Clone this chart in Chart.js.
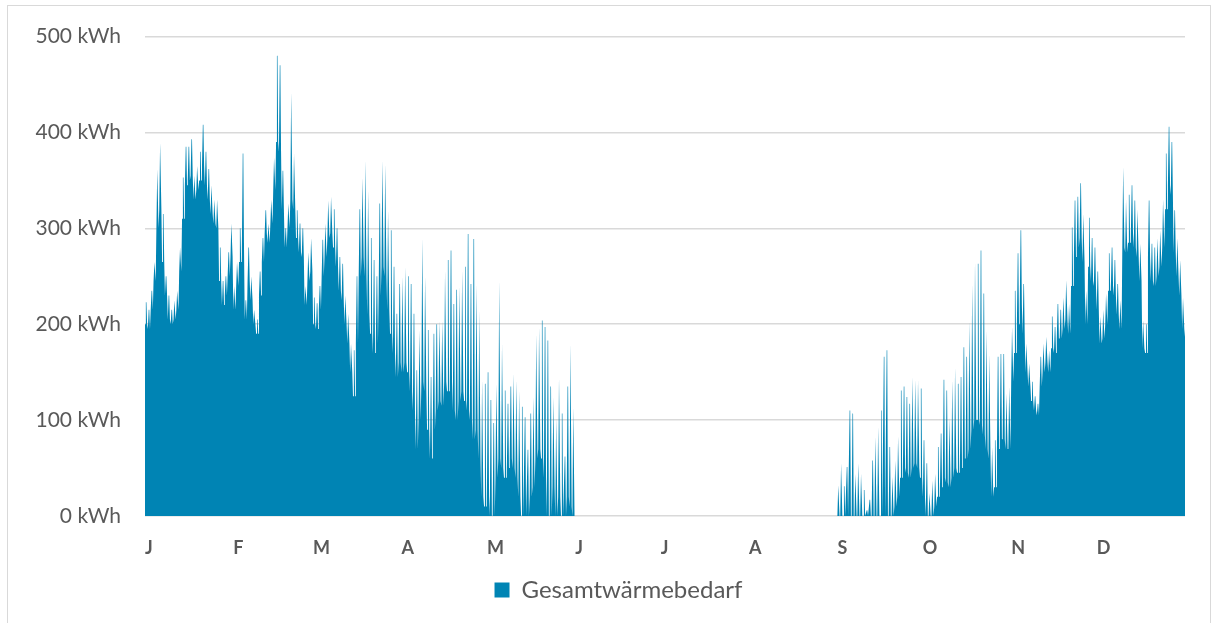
<!DOCTYPE html>
<html>
<head>
<meta charset="utf-8">
<script src="https://cdn.jsdelivr.net/npm/chart.js@4.4.0/dist/chart.umd.min.js"></script>
<style>
html,body{margin:0;padding:0;background:#fff;}
#wrap{position:absolute;left:0;top:0;width:1213px;height:623px;overflow:hidden;}
#frame{position:absolute;left:7px;top:5px;width:1204px;height:640px;border:1px solid #d9d9d9;box-sizing:border-box;pointer-events:none;}
canvas{position:absolute;left:0;top:0;}
</style>
</head>
<body>
<div id="wrap"><canvas id="c" width="1213" height="623"></canvas><div id="frame"></div></div>
<script>
// Month tick labels and the day of year where each month starts
const monthLabels = ['J','F','M','A','M','J','J','A','S','O','N','D'];
const monthStartDays = [0,31,59,90,120,151,181,212,243,273,304,334];
const yTickValues = [0,100,200,300,400,500];
const seriesName = 'Gesamtwärmebedarf';

// Daily peak heat demand (kWh)
const dailyPeak = [
  // Jan
  223,215,235,265,362,389,315,250,230,215,225,235,280,353,385,385,393,355,365,380,408,380,362,345,330,330,280,245,250,275,305,
  // Feb
  240,265,300,378,225,280,250,215,205,255,290,319,305,330,374,480,470,360,300,326,442,378,319,305,300,240,275,290,
  // Mar
  228,222,240,288,305,329,333,320,300,270,263,230,211,180,173,250,320,353,371,340,290,267,250,326,371,367,319,298,260,211,242,
  // Apr
  250,260,250,242,211,152,194,290,250,194,145,190,200,204,204,256,267,277,221,236,240,256,260,294,242,289,242,215,142,138,
  // May
  150,121,97,138,246,180,131,117,135,149,142,131,114,103,69,107,124,190,197,204,197,183,135,124,103,145,107,62,135,180,114,
  // Jun
  0,0,0,0,0,0,0,0,0,0,0,0,0,0,0,0,0,0,0,0,0,0,0,0,0,0,0,0,0,0,
  // Jul
  0,0,0,0,0,0,0,0,0,0,0,0,0,0,0,0,0,0,0,0,0,0,0,0,0,0,0,0,0,0,0,
  // Aug
  0,0,0,0,0,0,0,0,0,0,0,0,0,0,0,0,0,0,0,0,0,0,0,0,0,0,0,0,0,0,0,
  // Sep
  32,55,31,51,110,107,44,55,44,27,6,17,58,83,93,110,166,173,72,41,58,83,131,135,124,117,145,142,142,133,
  // Oct
  79,55,24,37,44,72,86,142,131,103,142,155,138,145,176,166,204,242,267,263,277,232,194,169,72,79,166,169,169,128,135,
  // Nov
  197,235,274,298,242,180,159,140,125,117,166,180,187,173,208,197,221,215,228,246,221,301,329,333,347,315,235,311,290,280,
  // Dec
  255,208,215,232,274,280,267,242,225,364,330,335,345,329,320,284,204,200,329,284,280,290,298,330,378,406,390,319,290,267,228
];

// Daily base (night-time) heat demand (kWh)
const dailyBase = [
  // Jan
  200,195,215,245,300,320,265,230,205,200,205,215,255,310,345,350,355,330,340,350,365,345,330,315,305,300,245,220,230,250,270,
  // Feb
  215,240,265,280,205,245,225,200,190,230,265,295,285,305,340,390,380,320,280,300,330,320,290,275,270,220,245,255,
  // Mar
  200,195,215,250,270,290,295,280,260,235,225,200,180,150,125,180,250,270,250,210,190,170,180,230,260,250,215,190,170,145,160,
  // Apr
  150,160,150,130,110,70,100,140,130,90,60,90,110,120,115,140,130,140,110,100,120,130,120,110,100,80,90,60,20,10,
  // May
  20,0,0,40,60,50,40,50,60,50,40,20,0,0,0,20,30,60,70,60,40,0,0,30,0,20,0,0,20,10,0,
  // Jun
  0,0,0,0,0,0,0,0,0,0,0,0,0,0,0,0,0,0,0,0,0,0,0,0,0,0,0,0,0,0,
  // Jul
  0,0,0,0,0,0,0,0,0,0,0,0,0,0,0,0,0,0,0,0,0,0,0,0,0,0,0,0,0,0,0,
  // Aug
  0,0,0,0,0,0,0,0,0,0,0,0,0,0,0,0,0,0,0,0,0,0,0,0,0,0,0,0,0,0,0,
  // Sep
  0,0,0,0,0,0,0,0,0,0,0,0,0,0,0,0,0,0,0,0,10,20,40,50,45,40,50,55,50,40,
  // Oct
  20,0,0,0,10,20,30,40,35,30,40,50,45,50,60,60,70,90,100,100,95,85,70,60,20,30,70,80,80,70,70,
  // Nov
  140,170,200,220,190,150,135,120,110,105,135,150,160,150,175,170,185,185,195,205,190,240,270,280,290,265,200,260,245,240,
  // Dec
  215,180,185,200,235,240,230,210,195,280,275,285,295,280,270,245,175,170,270,245,240,250,260,280,320,345,335,275,250,230,195
];
const yearEndValue = 187;

// Build the point table from the arrays (base, morning peak, base per day)
const points = [];
for (let d = 0; d < dailyPeak.length; d++) {
  points.push({x: d, y: dailyBase[d]});
  points.push({x: d + 0.3, y: dailyPeak[d]});
  points.push({x: d + 0.5, y: dailyPeak[d]});
  points.push({x: d + 0.75, y: dailyBase[d]});
}
points.push({x: dailyPeak.length, y: yearEndValue});

const BLUE = '#0084B4';
const GREY = '#595959';
const FONT = 'Lato, "Open Sans", sans-serif';

new Chart(document.getElementById('c'), {
  type: 'line',
  data: {
    datasets: [{
      label: seriesName,
      data: points,
      backgroundColor: BLUE,
      borderColor: BLUE,
      borderWidth: 0,
      pointRadius: 0,
      fill: 'origin',
      tension: 0
    }]
  },
  options: {
    responsive: false,
    animation: false,
    devicePixelRatio: 1,
    layout: { padding: { left: 30, right: 6, top: 36, bottom: 11 } },
    plugins: {
      tooltip: { enabled: false },
      legend: {
        position: 'bottom',
        labels: {
          boxWidth: 15,
          boxHeight: 15,
          padding: 10,
          color: GREY,
          font: { family: FONT, size: 24 }
        }
      }
    },
    scales: {
      x: {
        type: 'linear',
        min: 0,
        max: 365,
        grid: { display: false, drawTicks: false },
        border: { display: false },
        afterBuildTicks: s => { s.ticks = monthStartDays.map(v => ({ value: v })); },
        afterFit: s => { s.height = 52; },
        ticks: {
          autoSkip: false,
          maxRotation: 0,
          align: 'start',
          padding: 21,
          color: GREY,
          font: { family: FONT, size: 18, weight: 'bold' },
          callback: (v, i) => monthLabels[i]
        }
      },
      y: {
        min: 0,
        max: 500,
        afterBuildTicks: s => { s.ticks = yTickValues.map(v => ({ value: v })); },
        afterFit: s => { s.width = 115; },
        grid: { color: '#d9d9d9', lineWidth: 1.5, drawTicks: false },
        border: { display: false },
        ticks: {
          padding: 24,
          color: GREY,
          font: { family: FONT, size: 21 },
          callback: v => v + ' kWh'
        }
      },
      yr: {
        type: 'linear',
        position: 'right',
        min: 0,
        max: 1,
        grid: { display: false, drawTicks: false },
        border: { display: false },
        ticks: { display: false },
        afterFit: s => { s.width = 22; }
      }
    }
  }
});
</script>
</body>
</html>
